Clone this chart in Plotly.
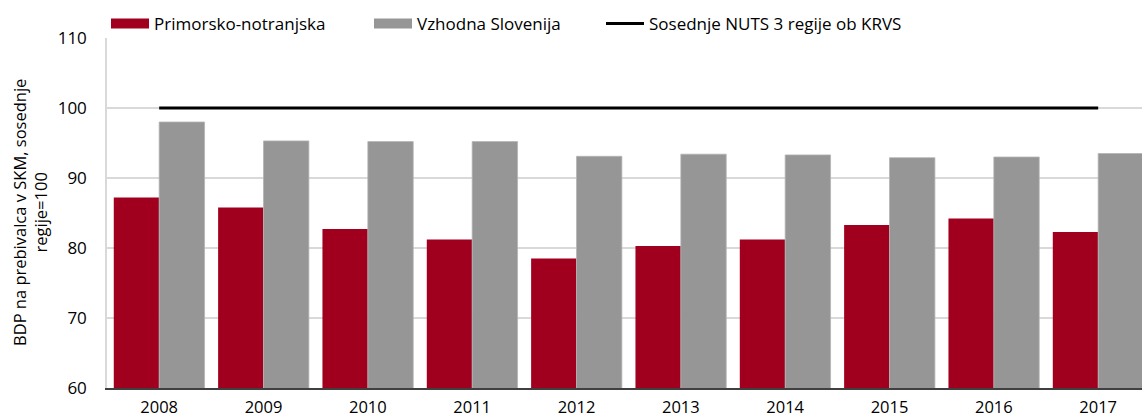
import plotly.graph_objects as go

years = ["2008", "2009", "2010", "2011", "2012", "2013", "2014", "2015", "2016", "2017"]
primorsko = [87.2, 85.8, 82.7, 81.2, 78.5, 80.3, 81.2, 83.3, 84.2, 82.3]
vzhodna = [98.0, 95.3, 95.2, 95.2, 93.1, 93.4, 93.3, 92.9, 93.0, 93.5]
sosednje = [100] * len(years)

names = ["Primorsko-notranjska", "Vzhodna Slovenija", "Sosednje NUTS 3 regije ob KRVS"]
RED = "#A0001E"
GRAY = "#969696"
FONT = "Open Sans"

fig = go.Figure()
fig.add_trace(go.Bar(x=years, y=primorsko, name=names[0], marker=dict(color=RED, line=dict(width=0)),
                     showlegend=False))
fig.add_trace(go.Bar(x=years, y=vzhodna, name=names[1], marker=dict(color=GRAY, line=dict(color="#b4b4b4", width=0.8)),
                     showlegend=False))
fig.add_trace(go.Scatter(x=years, y=sosednje, name=names[2], mode="lines",
                         line=dict(color="black", width=3), showlegend=False))
# legend entries (one legend each so they can be placed like the reference)
fig.add_trace(go.Scatter(x=[None], y=[None], mode="lines", name=names[0],
                         line=dict(color=RED, width=10), legend="legend"))
fig.add_trace(go.Scatter(x=[None], y=[None], mode="lines", name=names[1],
                         line=dict(color=GRAY, width=10), legend="legend2"))
fig.add_trace(go.Scatter(x=[None], y=[None], mode="lines", name=names[2],
                         line=dict(color="black", width=3), legend="legend3"))

L = 107
PW = 1142 - L


def leg(px):
    return dict(orientation="h", x=(px - 4 - L) / PW, xanchor="left", xref="paper",
                y=1 - 24 / 419, yref="container", yanchor="middle",
                font=dict(size=17, family=FONT), bgcolor="rgba(0,0,0,0)", itemwidth=38)


fig.update_layout(
    width=1142, height=419,
    margin=dict(l=L, r=0, t=38, b=31, autoexpand=False),
    paper_bgcolor="white", plot_bgcolor="white",
    barmode="group", bargap=0.13, bargroupgap=0,
    font=dict(family=FONT, size=17, color="black"),
    legend=leg(110), legend2=leg(373), legend3=leg(605),
    xaxis=dict(type="category", range=[-0.5, 9.42], showgrid=False, showline=True,
               linecolor="#404040", linewidth=2, ticks="", tickfont=dict(size=16.5),
               ticklabelstandoff=3),
    yaxis=dict(range=[60, 110], dtick=10, showgrid=True, gridcolor="#d9d9d9", gridwidth=1.5,
               showline=True, linecolor="#d9d9d9", linewidth=1.5, ticks="", zeroline=False,
               tickfont=dict(size=17), ticklabelstandoff=15),
    annotations=[dict(text="BDP na prebivalca v SKM, sosednje<br>regije=100", textangle=-90,
                      xref="paper", yref="paper", x=0, xshift=30 - L, y=0.5,
                      xanchor="center", yanchor="middle", showarrow=False,
                      font=dict(size=16.5, family=FONT))],
)

fig.write_html("out.html", config={"displayModeBar": False},
               post_script="document.body.style.margin='0px';")
